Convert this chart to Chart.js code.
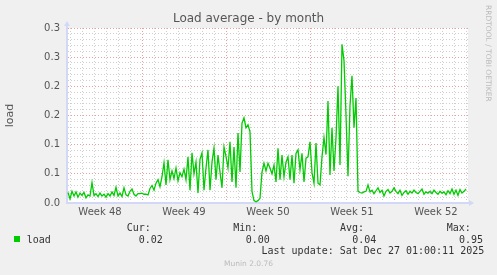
<!DOCTYPE html>
<html>
<head>
<meta charset="utf-8">
<title>Load average - by month</title>
<script src="https://cdn.jsdelivr.net/npm/chart.js@4.4.1/dist/chart.umd.min.js"></script>
<style>
  body { margin: 0; background: #f0f0f0; }
  #wrap { position: relative; width: 497px; height: 275px; overflow: hidden; background: #f0f0f0; }
  #wrap canvas { position: absolute; left: 0; top: 0; }
  .mono { position: absolute; font-family: "DejaVu Sans Mono", monospace; font-size: 10px; line-height: 12px; color: #333; white-space: pre; }
  .swatch { position: absolute; left: 14px; top: 236px; width: 6px; height: 6px; background: #00cc00; }
  .munin { position: absolute; left: 0; width: 497px; top: 259px; text-align: center; font-family: "DejaVu Sans", sans-serif; font-size: 7.5px; line-height: 10px; color: #bbb; }
  .side { position: absolute; left: 492px; top: 5px; transform-origin: 0 0; transform: rotate(90deg); font-family: "DejaVu Sans", sans-serif; font-size: 7.5px; line-height: 8px; color: #bbb; white-space: pre; }
</style>
</head>
<body>
<div id="wrap">
  <canvas id="chart" width="497" height="275"></canvas>
</div>
<script>
// one value every 4 hours, hours counted from Mon 1 Dec 00:00
const firstHour = -148;
const stepHours = 4;
const loadValues = [
  0.018, 0.007, 0.02, 0.012, 0.019, 0.01, 0.017, 0.013, 0.018, 0.009,
  0.014, 0.012, 0.035, 0.013, 0.016, 0.011, 0.017, 0.012, 0.015, 0.01,
  0.016, 0.012, 0.019, 0.013, 0.027, 0.012, 0.017, 0.011, 0.026, 0.014,
  0.012, 0.02, 0.024, 0.015, 0.012, 0.016, 0.016, 0.017, 0.015, 0.015,
  0.014, 0.025, 0.03, 0.022, 0.034, 0.04, 0.028, 0.045, 0.069, 0.031,
  0.074, 0.04, 0.055, 0.042, 0.06, 0.038, 0.052, 0.045, 0.058, 0.04,
  0.079, 0.022, 0.086, 0.05, 0.07, 0.017, 0.075, 0.086, 0.022, 0.06,
  0.091, 0.022, 0.07, 0.094, 0.04, 0.082, 0.053, 0.026, 0.096, 0.08,
  0.06, 0.105, 0.036, 0.096, 0.026, 0.12, 0.053, 0.137, 0.146, 0.129,
  0.134, 0.122, 0.02, 0.004, 0.002, 0.004, 0.008, 0.053, 0.068, 0.055,
  0.068, 0.06, 0.05, 0.065, 0.036, 0.094, 0.04, 0.082, 0.045, 0.07,
  0.079, 0.04, 0.082, 0.034, 0.085, 0.091, 0.057, 0.085, 0.036, 0.077,
  0.079, 0.105, 0.052, 0.034, 0.103, 0.034, 0.031, 0.079, 0.112, 0.083,
  0.175, 0.048, 0.129, 0.055, 0.112, 0.2, 0.065, 0.272, 0.244, 0.151,
  0.046, 0.167, 0.218, 0.129, 0.18, 0.02, 0.018, 0.017, 0.019, 0.02,
  0.031, 0.019, 0.022, 0.016, 0.021, 0.026, 0.018, 0.022, 0.012, 0.02,
  0.023, 0.017, 0.02, 0.026, 0.02, 0.016, 0.022, 0.013, 0.018, 0.021,
  0.015, 0.02, 0.017, 0.022, 0.018, 0.016, 0.02, 0.024, 0.015, 0.019,
  0.017, 0.02, 0.016, 0.022, 0.018, 0.015, 0.02, 0.017, 0.019, 0.014,
  0.021, 0.016, 0.024, 0.015, 0.022, 0.013, 0.023, 0.017, 0.02, 0.024
];
const axisMinHour = -150;
const axisMaxHour = 652;
const weekLabels = ['Week 48', 'Week 49', 'Week 50', 'Week 51', 'Week 52'];
const weekLabelHours = [-84, 84, 252, 420, 588];
const weekStartHours = [0, 168, 336, 504];
const yTickLabels = ['0.0', '0.1', '0.1', '0.2', '0.2', '0.3', '0.3'];
const statNames = ['Cur:', 'Min:', 'Avg:', 'Max:'];
const statValues = ['0.02', '0.00', '0.04', '0.95'];
const lastUpdate = 'Last update: Sat Dec 27 01:00:11 2025';

const minorGrid = '#cfcfcf';
const majorGrid = '#e8a0a0';
const axisColor = '#d2d8f6';

// legend block under the graph
const wrap = document.getElementById('wrap');
function addText(cls, text, left, top) {
  const d = document.createElement('div');
  d.className = cls;
  d.textContent = text;
  if (left !== null) d.style.left = left + 'px';
  if (top !== null) d.style.top = top + 'px';
  wrap.appendChild(d);
}
const nameLeft = [126.7, 233.3, 340, 446.7];
const valueLeft = [138.7, 245.7, 352.3, 459];
statNames.forEach((s, i) => addText('mono', s, nameLeft[i], 222.3));
statValues.forEach((s, i) => addText('mono', s, valueLeft[i], 233.5));
addText('mono', 'load', 26.7, 233.5);
addText('swatch', '', null, null);
addText('mono', lastUpdate, 261.5, 245);
addText('munin', 'Munin 2.0.76', null, null);
addText('side', 'RRDTOOL / TOBI OETIKER', null, null);

const rrdFrame = {
  id: 'rrdFrame',
  beforeDraw(chart) {
    const { ctx, chartArea: a } = chart;
    ctx.save();
    ctx.fillStyle = '#ffffff';
    ctx.fillRect(a.left, a.top, a.right - a.left, a.bottom - a.top);
    ctx.restore();
  },
  afterDraw(chart) {
    const { ctx, chartArea: a } = chart;
    const x = Math.round(a.left);
    const y = Math.round(a.bottom);
    ctx.save();
    ctx.strokeStyle = axisColor;
    ctx.fillStyle = axisColor;
    ctx.lineWidth = 2;
    ctx.beginPath();
    ctx.moveTo(x, a.top); ctx.lineTo(x, a.top - 2);
    ctx.moveTo(a.right, y); ctx.lineTo(a.right + 2, y);
    ctx.stroke();
    ctx.beginPath();
    ctx.moveTo(x - 3, a.top - 2); ctx.lineTo(x + 3, a.top - 2); ctx.lineTo(x, a.top - 7);
    ctx.closePath(); ctx.fill();
    ctx.beginPath();
    ctx.moveTo(a.right + 1, y - 3); ctx.lineTo(a.right + 1, y + 3); ctx.lineTo(a.right + 6, y);
    ctx.closePath(); ctx.fill();
    ctx.restore();
  }
};

new Chart(document.getElementById('chart'), {
  type: 'line',
  data: {
    datasets: [{
      label: 'load',
      data: loadValues.map((v, i) => ({ x: firstHour + i * stepHours, y: v })),
      borderColor: '#00cc00',
      backgroundColor: '#00cc00',
      borderWidth: 1.3,
      pointRadius: 0,
      tension: 0
    }]
  },
  options: {
    responsive: false,
    animation: false,
    devicePixelRatio: 1,
    layout: { padding: 0 },
    plugins: {
      legend: { display: false },
      tooltip: { enabled: false },
      title: {
        display: true,
        text: 'Load average - by month',
        color: '#555',
        font: { family: 'DejaVu Sans', size: 12, weight: 'normal' },
        padding: { top: 12, bottom: 1.6 }
      }
    },
    scales: {
      x: {
        type: 'linear',
        min: axisMinHour,
        max: axisMaxHour,
        afterFit: s => { s.height = 72; },
        afterBuildTicks: s => {
          const t = [];
          for (let h = -144; h <= 648; h += 12) t.push({ value: h });
          s.ticks = t;
        },
        ticks: {
          autoSkip: false,
          maxRotation: 0,
          padding: 3,
          color: '#555',
          font: { family: 'DejaVu Sans', size: 10 },
          callback: v => {
            const k = weekLabelHours.indexOf(v);
            return k >= 0 ? weekLabels[k] : '';
          }
        },
        grid: {
          drawTicks: false,
          color: c => {
            const h = c.tick ? c.tick.value : 1;
            if (weekStartHours.includes(h)) return majorGrid;
            if (h % 24 === 0) return minorGrid;
            return 'rgba(0,0,0,0)';
          }
        },
        border: { display: true, color: axisColor, width: 2, dash: [1, 2] }
      },
      y: {
        type: 'linear',
        min: 0,
        max: 0.3,
        afterFit: s => { s.width = 67; },
        afterBuildTicks: s => {
          const t = [];
          for (let i = 0; i <= 30; i++) t.push({ value: i / 100 });
          s.ticks = t;
        },
        ticks: {
          autoSkip: false,
          padding: 7,
          color: '#555',
          font: { family: 'DejaVu Sans', size: 10 },
          callback: v => {
            const i = Math.round(v * 100);
            return i % 5 === 0 ? yTickLabels[i / 5] : '';
          }
        },
        grid: {
          drawTicks: false,
          color: c => {
            const i = c.tick ? Math.round(c.tick.value * 100) : 1;
            return i % 5 === 0 ? majorGrid : minorGrid;
          }
        },
        border: { display: true, color: axisColor, width: 2, dash: [1, 2] },
        title: {
          display: true,
          text: 'load',
          color: '#555',
          font: { family: 'DejaVu Sans', size: 11 },
          padding: 4
        }
      },
      yr: {
        type: 'linear',
        position: 'right',
        min: 0,
        max: 1,
        afterFit: s => { s.width = 29; },
        ticks: { display: false },
        grid: { display: false, drawOnChartArea: false },
        border: { display: false }
      }
    }
  },
  plugins: [rrdFrame]
});
</script>
</body>
</html>
